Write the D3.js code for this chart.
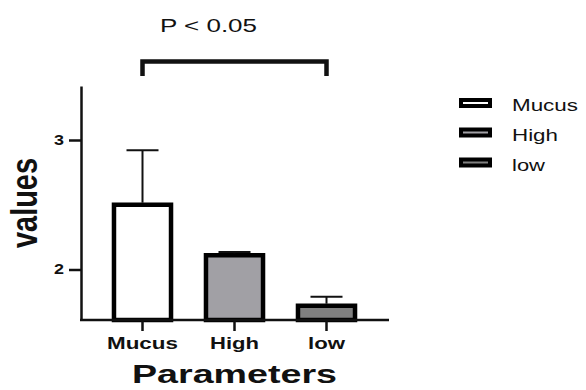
<!DOCTYPE html>
<html>
<head>
<meta charset="utf-8">
<script src="https://cdn.jsdelivr.net/npm/d3@7/dist/d3.min.js"></script>
<style>
  body { margin: 0; background: #fff; }
  text { font-family: "Liberation Sans", Arial, sans-serif; fill: #111; }
</style>
</head>
<body>
<svg id="chart" width="586" height="390"></svg>
<script>
// data
var categories = ["Mucus", "High", "low"];
var means = [2.5, 2.11, 1.72];
var errors = [0.42, 0.025, 0.07];
var fills = ["#ffffff", "#a1a0a5", "#808080"];
var yTicks = [2, 3];
var pLabel = "P < 0.05";

var svg = d3.select("#chart");

// scales
var x = d3.scaleBand().domain(categories).range([96.5, 372.5]).paddingInner(0.38).paddingOuter(0.19);
var y = d3.scaleLinear().domain([1.61, 3.417]).range([320, 86]);

var data = categories.map(function(c, i) {
  return { cat: c, mean: means[i], err: errors[i], fill: fills[i] };
});

// bars
svg.append("g").selectAll("rect")
  .data(data)
  .enter().append("rect")
    .attr("x", function(d) { return x(d.cat); })
    .attr("width", x.bandwidth())
    .attr("y", function(d) { return y(d.mean); })
    .attr("height", function(d) { return y.range()[0] - y(d.mean); })
    .attr("fill", function(d) { return d.fill; })
    .attr("stroke", "#000")
    .attr("stroke-width", 4.5);

// error bars
var eb = svg.append("g").attr("stroke", "#111").attr("stroke-width", 2);
eb.selectAll("line.v")
  .data(data)
  .enter().append("line")
    .attr("class", "v")
    .attr("x1", function(d) { return x(d.cat) + x.bandwidth() / 2; })
    .attr("x2", function(d) { return x(d.cat) + x.bandwidth() / 2; })
    .attr("y1", function(d) { return y(d.mean) - 2; })
    .attr("y2", function(d) { return y(d.mean + d.err); });
eb.selectAll("line.cap")
  .data(data)
  .enter().append("line")
    .attr("class", "cap")
    .attr("x1", function(d) { return x(d.cat) + x.bandwidth() / 2 - 16; })
    .attr("x2", function(d) { return x(d.cat) + x.bandwidth() / 2 + 16; })
    .attr("y1", function(d) { return y(d.mean + d.err); })
    .attr("y2", function(d) { return y(d.mean + d.err); });

// y axis
var yAxis = svg.append("g")
  .attr("transform", "translate(81,0)")
  .call(d3.axisLeft(y).tickValues(yTicks).tickFormat(d3.format("d")).tickSize(12).tickSizeOuter(0).tickPadding(5));
yAxis.select(".domain").attr("stroke", "#111").attr("stroke-width", 2.5);
yAxis.selectAll(".tick line").attr("stroke", "#111").attr("stroke-width", 2.5);
yAxis.selectAll(".tick text")
  .attr("font-size", 14).attr("font-weight", "bold")
  .attr("font-family", "'Liberation Sans', Arial, sans-serif")
  .attr("fill", "#111")
  .attr("textLength", 10).attr("lengthAdjust", "spacingAndGlyphs");

// x axis
var xAxis = svg.append("g")
  .attr("transform", "translate(0,320)")
  .call(d3.axisBottom(x).tickSize(11).tickSizeOuter(0).tickPadding(17));
xAxis.select(".domain").remove();
xAxis.append("line")
  .attr("x1", 80).attr("x2", 389)
  .attr("stroke", "#111").attr("stroke-width", 2.5);
xAxis.selectAll(".tick line").attr("stroke", "#111").attr("stroke-width", 2.5);
var catWidths = { "Mucus": 71, "High": 49, "low": 37 };
xAxis.selectAll(".tick text")
  .attr("font-size", 17).attr("font-weight", "bold")
  .attr("font-family", "'Liberation Sans', Arial, sans-serif")
  .attr("fill", "#111")
  .attr("dy", null).attr("y", 29)
  .attr("textLength", function(d) { return catWidths[d]; })
  .attr("lengthAdjust", "spacingAndGlyphs");

// axis titles
svg.append("text")
  .attr("x", 234.5).attr("y", 383)
  .attr("text-anchor", "middle")
  .attr("font-size", 26).attr("font-weight", "bold")
  .attr("textLength", 205).attr("lengthAdjust", "spacingAndGlyphs")
  .text("Parameters");

svg.append("text")
  .attr("transform", "translate(37,203) scale(1.3,1) rotate(-90)")
  .attr("text-anchor", "middle")
  .attr("font-size", 29).attr("font-weight", "bold")
  .attr("textLength", 90).attr("lengthAdjust", "spacingAndGlyphs")
  .text("values");

// significance bracket
var bx1 = x("Mucus") + x.bandwidth() / 2, bx2 = x("low") + x.bandwidth() / 2;
svg.append("path")
  .attr("d", "M" + bx1 + ",76V61.5H" + bx2 + "V76")
  .attr("fill", "none").attr("stroke", "#111").attr("stroke-width", 4.5);
svg.append("text")
  .attr("x", (bx1 + bx2) / 2 - 26).attr("y", 32)
  .attr("text-anchor", "middle")
  .attr("font-size", 19)
  .attr("textLength", 97).attr("lengthAdjust", "spacingAndGlyphs")
  .text(pLabel);

// legend
var legWidths = [66, 46, 33];
var legBase = [111, 140.5, 170.5];
var leg = svg.append("g").selectAll("g")
  .data(data)
  .enter().append("g");
leg.append("rect")
  .attr("x", 461).attr("width", 29)
  .attr("y", function(d, i) { return legBase[i] - 11; })
  .attr("height", 6)
  .attr("fill", function(d) { return d.fill; })
  .attr("stroke", "#000").attr("stroke-width", 4);
leg.append("text")
  .attr("x", 512)
  .attr("y", function(d, i) { return legBase[i]; })
  .attr("font-size", 17)
  .attr("textLength", function(d, i) { return legWidths[i]; })
  .attr("lengthAdjust", "spacingAndGlyphs")
  .text(function(d) { return d.cat; });
</script>
</body>
</html>
